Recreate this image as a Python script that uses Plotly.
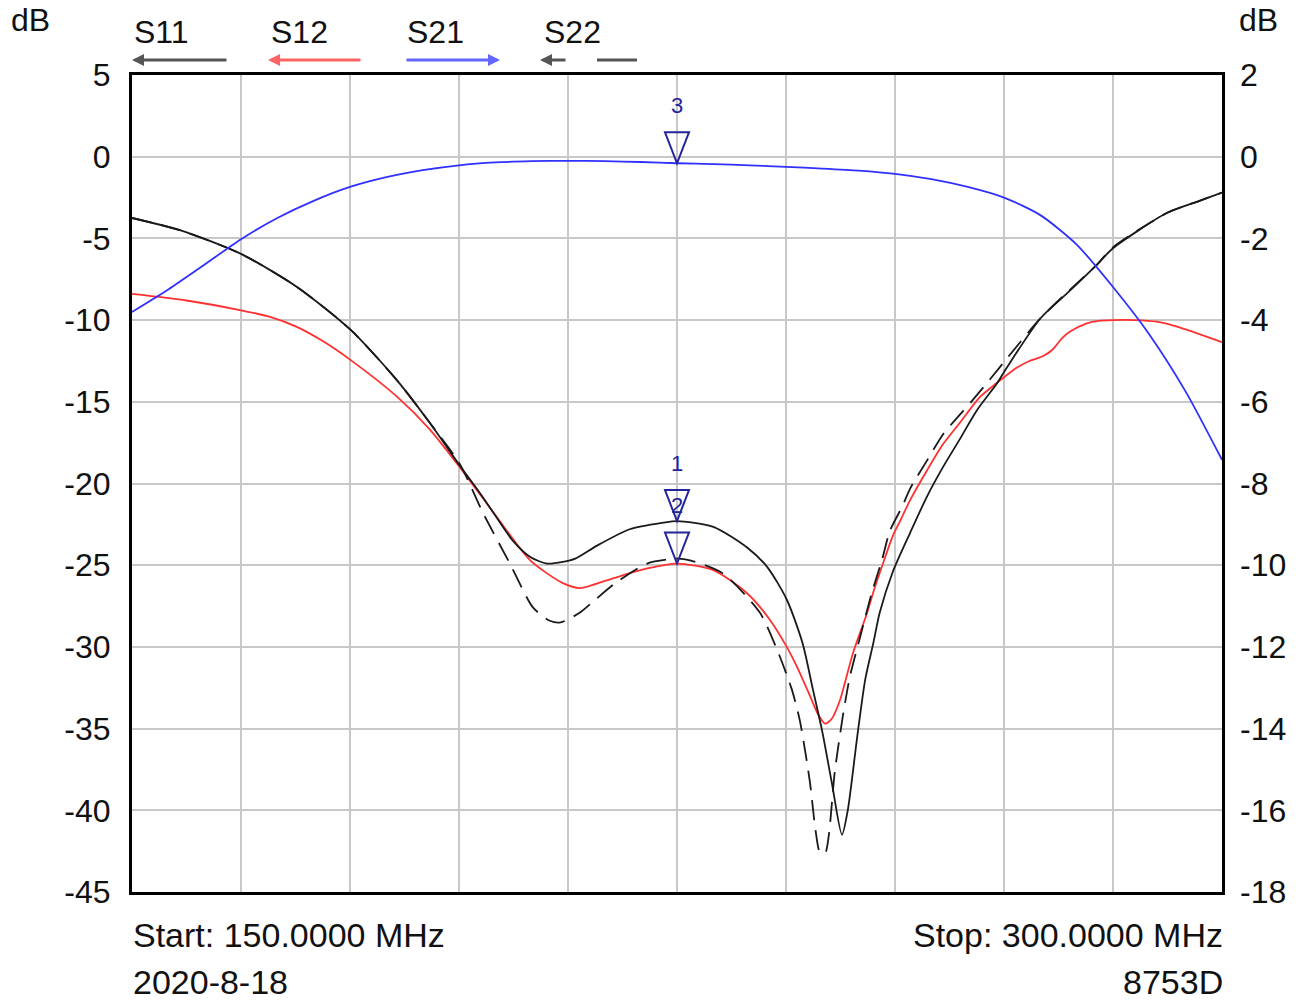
import numpy as np
import plotly.graph_objects as go

# ---------------- data ----------------
s11_f = [150, 156.6, 165, 172.7, 180.1, 186.5, 191.0, 195.1, 197.9, 200.2, 202.4, 204.8, 207.1, 209.3,
         211.0, 214.0, 218.5, 223.1, 225.0, 230.0, 234.6, 237.4, 240.1, 242.3, 243.7, 245.0, 246.3, 247.7,
         248.5, 249.8, 250.9, 252.0, 252.9, 254.7, 257.1, 259.4, 261.6, 263.9, 266.3, 269.0, 270.4,
         275.0, 278.7, 282.8, 285.0, 292.4, 296.9, 300]
s11_db = [-3.75, -4.5, -5.95, -7.97, -10.6, -13.7, -16.3, -18.9, -20.6, -22.1, -23.5, -24.5, -24.9, -24.8,
          -24.6, -23.8, -22.8, -22.4, -22.3, -22.65, -23.9, -25.1, -27.1, -29.8, -32.6, -35.2, -38.3, -41.5,
          -40.0, -35.5, -32.0, -29.8, -27.9, -25.4, -23.0, -20.8, -19.0, -17.3, -15.5, -13.9, -12.9,
          -9.9, -8.35, -6.6, -5.6, -3.45, -2.7, -2.2]

s12_f = [150, 157.5, 165, 169.0, 172.6, 176.3, 180.1, 186.5, 191.0, 195.1, 200.2, 204.8, 209.3, 211.65,
         216.2, 220.9, 225.0, 230.0, 234.6, 237.8, 240.1, 241.6, 243.3, 244.5, 245.4, 246.3, 247.4, 249.2,
         251.1, 252.2, 253.35, 254.7, 255.7, 257.1, 259.4, 261.6, 263.9, 266.7, 269.0, 271.8, 273.5, 275.4,
         276.7, 278.0, 279.1, 281.4, 283.0, 285.0, 288.0, 291.0, 293.8, 300]
s12_db = [-8.4, -8.8, -9.4, -9.8, -10.4, -11.3, -12.45, -14.7, -16.7, -19.0, -22.05, -24.7, -26.1, -26.4,
          -25.8, -25.2, -24.9, -25.3, -26.7, -28.35, -30.0, -31.3, -33.0, -34.2, -34.7, -34.4, -33.3, -30.4,
          -28.0, -26.4, -24.9, -23.2, -22.3, -21.0, -19.2, -17.6, -16.3, -14.7, -13.85, -12.9, -12.5, -12.2,
          -11.8, -11.1, -10.7, -10.2, -10.05, -10.0, -10.0, -10.1, -10.4, -11.35]

s21_f = [150, 155, 160, 165, 170, 175, 180, 185, 190, 195, 200, 205, 210, 215, 220, 225, 230, 235, 240,
         245, 250, 255, 260, 265, 270, 275, 280, 285, 290, 295, 300]
s21_db = [-3.80, -3.25, -2.64, -2.02, -1.50, -1.08, -0.74, -0.50, -0.33, -0.21, -0.14, -0.11, -0.10, -0.11,
          -0.13, -0.16, -0.18, -0.21, -0.25, -0.29, -0.34, -0.42, -0.55, -0.74, -1.00, -1.43, -2.15, -3.19,
          -4.35, -5.75, -7.42]

s22_f = [150, 156.6, 165, 172.7, 180.1, 186.5, 191.0, 195.1, 198.3, 202.0, 205.2, 207.5, 209.0, 211.65,
         213.4, 216.5, 220.9, 225.0, 226.8, 231.3, 236.4, 238.8, 240.8, 241.9, 243.3, 244.0, 244.7, 245.4,
         245.9, 246.7, 247.8, 248.8, 250.2, 251.8, 253.2, 254.3, 256.0, 257.1, 259.4, 261.6, 263.9, 265.3,
         268.3, 270.3, 275.0, 278.7, 282.8, 285.0, 292.4, 296.9, 300]
s22_db = [-3.75, -4.5, -5.95, -7.97, -10.6, -13.7, -16.3, -18.8, -21.8, -24.9, -27.6, -28.4, -28.5, -27.9,
          -27.25, -26.1, -24.9, -24.6, -24.7, -25.5, -27.9, -30.2, -32.6, -34.5, -38.3, -41.0, -42.6, -42.6,
          -41.5, -37.7, -34.3, -31.8, -29.4, -26.7, -24.7, -22.9, -21.4, -20.3, -18.6, -17.0, -15.8, -15.1,
          -13.5, -12.4, -9.9, -8.3, -6.6, -5.55, -3.45, -2.7, -2.2]

left_ticks = [5, 0, -5, -10, -15, -20, -25, -30, -35, -40, -45]
right_ticks = [2, 0, -2, -4, -6, -8, -10, -12, -14, -16, -18]
x_grid = [150, 165, 180, 195, 210, 225, 240, 255, 270, 285, 300]

trace_names = ["S11", "S12", "S21", "S22"]
marker_freq = 225.0
marker_list = [("3", "S21"), ("1", "S11"), ("2", "S12")]

start_text = "Start: 150.0000 MHz"
stop_text = "Stop: 300.0000 MHz"
date_text = "2020-8-18"
model_text = "8753D"

# ---------------- figure ----------------
W, H = 1301, 1003
L, R, T, B = 132, 79, 75, 111
PW, PH = W - L - R, H - T - B
FONT = "Liberation Sans, Arial, sans-serif"
TXT = "#111111"


def xp(px):
    return (px - L) / PW


def yp(py):
    return (H - B - py) / PH


col = {"S11": "#1a1a1a", "S12": "#ff3030", "S21": "#3030ff", "S22": "#1a1a1a"}
series = {"S11": (s11_f, s11_db, "y"), "S12": (s12_f, s12_db, "y"),
          "S21": (s21_f, s21_db, "y2"), "S22": (s22_f, s22_db, "y")}

fig = go.Figure()
for name in ["S21", "S12", "S22", "S11"]:
    f, v, ya = series[name]
    fig.add_trace(go.Scatter(
        x=f, y=v, mode="lines", name=name, yaxis=ya,
        line=dict(color=col[name], width=1.8, shape="spline", smoothing=0.7,
                  dash="20px,10px" if name == "S22" else "solid"),
        showlegend=False, hoverinfo="skip"))

shapes = []
annotations = []
navy = "#23239a"
for label, name in marker_list:
    f, v, ya = series[name]
    val = float(np.interp(marker_freq, f, v))
    shapes.append(dict(type="path", xref="x", yref=ya, xsizemode="pixel", ysizemode="pixel",
                       xanchor=marker_freq, yanchor=val,
                       path="M -12 31 L 12 31 L 0 0 Z",
                       line=dict(color=navy, width=2), fillcolor="rgba(0,0,0,0)"))
    annotations.append(dict(x=marker_freq, y=val, xref="x", yref=ya, text=label, showarrow=False,
                            yshift=58, font=dict(family=FONT, size=22, color=navy)))

# legend-like labels with arrows above the plot
leg = [("S11", 132, 132, 96, "#555555"), ("S12", 269, 268, 94, "#ff6464"),
       ("S21", 405, 500, -95, "#6464ff"), ("S22", 542, 540, 27, "#555555")]
for name, tx, hx, dx, c in leg:
    annotations.append(dict(x=xp(tx), y=yp(32), xref="paper", yref="paper", text=name,
                            showarrow=False, xanchor="left", yanchor="middle",
                            font=dict(family=FONT, size=32, color=TXT)))
    annotations.append(dict(x=xp(hx), y=yp(60), xref="paper", yref="paper", text="",
                            showarrow=True, ax=dx, ay=0, arrowhead=2, arrowsize=0.8,
                            arrowwidth=3, arrowcolor=c, standoff=0, startstandoff=0))
shapes.append(dict(type="line", xref="paper", yref="paper", x0=xp(597), x1=xp(637),
                   y0=yp(60), y1=yp(60), line=dict(color="#555555", width=3)))

# corner texts
annotations += [
    dict(x=xp(9), y=yp(20), xref="paper", yref="paper", text="dB", showarrow=False,
         xanchor="left", yanchor="middle", font=dict(family=FONT, size=32, color=TXT)),
    dict(x=xp(1237), y=yp(20), xref="paper", yref="paper", text="dB", showarrow=False,
         xanchor="left", yanchor="middle", font=dict(family=FONT, size=32, color=TXT)),
    dict(x=xp(131), y=yp(935), xref="paper", yref="paper", text=start_text, showarrow=False,
         xanchor="left", yanchor="middle", font=dict(family=FONT, size=34, color=TXT)),
    dict(x=xp(1225), y=yp(935), xref="paper", yref="paper", text=stop_text, showarrow=False,
         xanchor="right", yanchor="middle", font=dict(family=FONT, size=34, color=TXT)),
    dict(x=xp(131), y=yp(982), xref="paper", yref="paper", text=date_text, showarrow=False,
         xanchor="left", yanchor="middle", font=dict(family=FONT, size=34, color=TXT)),
    dict(x=xp(1225), y=yp(982), xref="paper", yref="paper", text=model_text, showarrow=False,
         xanchor="right", yanchor="middle", font=dict(family=FONT, size=34, color=TXT)),
]

fig.update_layout(
    width=W, height=H, margin=dict(l=L, r=R, t=T, b=B, pad=0),
    paper_bgcolor="white", plot_bgcolor="white",
    font=dict(family=FONT, size=32, color=TXT),
    xaxis=dict(range=[150, 300], tickvals=x_grid, showticklabels=False, ticks="",
               showgrid=True, gridcolor="#c8c8c8", gridwidth=2, zeroline=False,
               showline=True, linecolor="black", linewidth=3, mirror=True),
    yaxis=dict(range=[-45, 5], tickvals=left_ticks, ticktext=[str(t) for t in left_ticks], ticks="",
               ticklabelstandoff=12, showgrid=True, gridcolor="#c8c8c8", gridwidth=2, zeroline=False,
               showline=True, linecolor="black", linewidth=3, mirror=True,
               tickfont=dict(family=FONT, size=32, color=TXT)),
    yaxis2=dict(range=[-18, 2], tickvals=right_ticks, ticktext=[str(t) for t in right_ticks], ticks="",
                ticklabelstandoff=17, overlaying="y", side="right", showgrid=False, zeroline=False,
                showline=False, tickfont=dict(family=FONT, size=32, color=TXT)),
    shapes=shapes, annotations=annotations,
)

fig.write_html("out.html", config={"displayModeBar": False},
               post_script="document.body.style.margin='0px';document.body.style.overflow='hidden';")
